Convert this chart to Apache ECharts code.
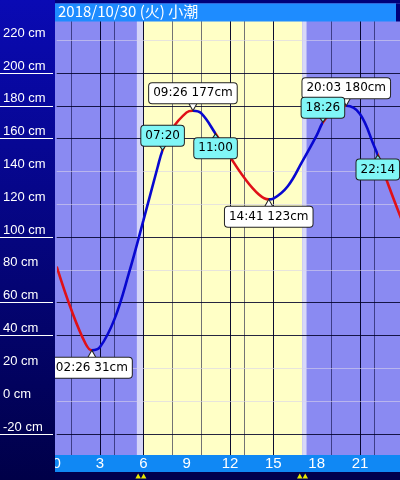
<!DOCTYPE html>
<html><head><meta charset="utf-8">
<script src="https://cdn.jsdelivr.net/npm/echarts@6.0.0/dist/echarts.min.js"></script>
<style>html,body{margin:0;padding:0;background:#000050;}#c{width:400px;height:480px;}</style>
</head><body><div id="c"></div>
<script>
// ---- data ----
const titleText = '2018/10/30 (火) 小潮';
const curveHours = [0, 1, 2, 2.433, 3, 4, 5, 6, 7, 7.333, 8, 9, 9.433, 10, 11, 12, 13, 14, 14.683, 15, 16, 17, 18, 18.433, 19, 20.05, 21, 22, 22.233, 23, 24];
const curveCm    = [82, 56, 35, 31, 33, 50, 78, 110, 143, 153, 166, 176, 177, 175.5, 163, 149, 136, 126, 123, 123.5, 131, 146, 162, 170, 175.5, 180, 175, 155, 150, 131, 108];
const tideTimes = ['02:26', '09:26', '14:41', '20:03'];
const tideCm    = [31, 177, 123, 180];
const tideKind  = ['low', 'high', 'low', 'high'];
const markTimes = ['07:20', '11:00', '18:26', '22:14'];
const markCm    = [153, 163, 170, 150];
const markSide  = ['above', 'below', 'above', 'below'];
const dawnBand  = [5.55, 6.0];
const dayBand   = [6.0, 17.0];
const duskBand  = [17.0, 17.3];
const sunTimes  = [5.83, 17.02];
const xTickHours = [0, 3, 6, 9, 12, 15, 18, 21, 24];
const xLinesDark = [3, 6, 12, 15, 21];
const xLinesThin = [1, 4, 8, 10, 13, 19, 22];
const yLinesDark = [200, 180, 160, 100, 60, 40, -20];
const yLinesLight = [220, 140, 120, 80, 20, 0];

// ---- helpers ----
const toH = s => { const p = s.split(':').map(Number); return p[0] + p[1] / 60; };
const RED = '#e01018', BLUE = '#0808d0';
const breaks = [0].concat(tideTimes.concat(markTimes).map(toH).sort((a, b) => a - b), [24]);
const pieces = [];
for (let i = 0; i < breaks.length - 1; i++) {
  pieces.push({ gte: breaks[i], lt: breaks[i + 1] + (i === breaks.length - 2 ? 0.001 : 0), color: i % 2 === 0 ? RED : BLUE });
}
const curveData = curveHours.map((h, i) => [h, curveCm[i]]);

const downTri = 'path://M0,0L10,0L5,10Z';
const upTri = 'path://M5,0L10,10L0,10Z';
function bubble(h, v, text, above, big, fill) {
  const sz = big ? [9, 8] : [7, 5];
  return {
    name: text, value: [h, v],
    symbol: above ? downTri : upTri,
    symbolSize: sz,
    symbolOffset: [0, above ? -sz[1] / 2 : sz[1] / 2],
    itemStyle: { color: fill, borderColor: '#222', borderWidth: 1, opacity: 1 },
    label: { position: above ? 'top' : 'bottom', distance: -1, backgroundColor: fill }
  };
}
const bubbles = [];
tideTimes.forEach((t, i) => bubbles.push(bubble(toH(t), tideCm[i], t + ' ' + tideCm[i] + 'cm', tideKind[i] === 'high', true, '#ffffff')));
markTimes.forEach((t, i) => bubbles.push(bubble(toH(t), markCm[i], t, markSide[i] === 'above', false, '#80f6f6')));

const vLines = xLinesDark.map(h => ({ xAxis: h, lineStyle: { color: 'rgba(0,0,40,0.95)', width: 1, type: 'solid' } }))
  .concat(xLinesThin.map(h => ({ xAxis: h, lineStyle: { color: 'rgba(0,0,50,0.55)', width: 1, type: 'solid' } })));
const hLines = yLinesDark.map(v => ({ yAxis: v, lineStyle: { color: 'rgba(0,0,40,0.85)', width: 1, type: 'solid' } }))
  .concat(yLinesLight.map(v => ({ yAxis: v, lineStyle: { color: 'rgba(215,210,235,0.6)', width: 1, type: 'solid' } })));

const chart = echarts.init(document.getElementById('c'), null, { renderer: 'canvas' });
const GRID = { top: 7.36, bottom: 13.16 };
chart.setOption({
  animation: false,
  backgroundColor: '#8a8af2',
  title: {
    text: titleText, left: 58, top: 4, padding: 0, z: 9,
    textStyle: { color: '#ffffff', fontSize: 15, fontWeight: 'normal', fontFamily: "'Noto Sans CJK JP', sans-serif" }
  },
  grid: [
    { left: 56.7, right: -3.3, top: GRID.top, bottom: GRID.bottom, outerBoundsMode: 'none', containLabel: false },
    { left: 0, width: 53, top: GRID.top, bottom: GRID.bottom, outerBoundsMode: 'none', containLabel: false }
  ],
  xAxis: [
    {
      type: 'value', gridIndex: 0, min: 0, max: 24, interval: 3, offset: -12, z: 6,
      axisLine: { show: false }, axisTick: { show: false }, splitLine: { show: false },
      axisLabel: {
        color: '#ffffff', fontSize: 15, margin: 2, fontFamily: "'Liberation Sans', sans-serif",
        formatter: v => (xTickHours.indexOf(v) >= 0 && v !== 24) ? String(v) : ''
      }
    },
    { type: 'value', gridIndex: 1, min: 0, max: 1, show: false }
  ],
  yAxis: [
    {
      type: 'value', gridIndex: 0, min: -40, max: 240, interval: 20, z: 8,
      axisLine: { show: false }, axisTick: { show: false }, splitLine: { show: false },
      axisLabel: {
        color: '#ffffff', fontSize: 13, align: 'left', verticalAlign: 'bottom', margin: 53.7, lineHeight: 14,
        fontFamily: "'Liberation Sans', sans-serif",
        formatter: v => (v === -40 || v === 240) ? '' : v + ' cm'
      }
    },
    { type: 'value', gridIndex: 1, min: -40, max: 240, show: false }
  ],
  visualMap: {
    type: 'piecewise', show: false, dimension: 0, seriesIndex: 0, pieces: pieces
  },
  graphic: [
    { type: 'rect', z: 5, silent: true, shape: { x: 0, y: 0, width: 400, height: 3.5 }, style: { fill: '#00007a' } },
    { type: 'rect', z: 5, silent: true, shape: { x: 396, y: 3.5, width: 4, height: 18 }, style: { fill: '#00007a' } },
    { type: 'rect', z: 5, silent: true, shape: { x: 55, y: 3.5, width: 341, height: 18 }, style: { fill: '#1e8cff' } },
    { type: 'rect', z: 5, silent: true, shape: { x: 53, y: 455, width: 347, height: 17 }, style: { fill: '#1088f4' } },
    { type: 'rect', z: 5, silent: true, shape: { x: 0, y: 472, width: 400, height: 8 }, style: { fill: '#00004e' } },
    {
      type: 'rect', z: 7, silent: true, shape: { x: 0, y: 0, width: 55, height: 480 },
      style: { fill: new echarts.graphic.LinearGradient(0, 0, 0, 1, [{ offset: 0, color: '#0a0ab4' }, { offset: 1, color: '#000048' }]) }
    }
  ],
  series: [
    {
      type: 'line', xAxisIndex: 0, yAxisIndex: 0, data: curveData, smooth: 0.4, symbol: 'none', z: 3,
      lineStyle: { width: 2.6 },
      markArea: {
        silent: true, z: 1,
        data: [
          [{ xAxis: dawnBand[0], itemStyle: { color: '#d4d4f8' } }, { xAxis: dawnBand[1] }],
          [{ xAxis: dayBand[0], itemStyle: { color: '#ffffc6' } }, { xAxis: dayBand[1] }],
          [{ xAxis: duskBand[0], itemStyle: { color: '#d8d8f8' } }, { xAxis: duskBand[1] }]
        ]
      },
      markLine: { silent: true, z: 2, symbol: 'none', label: { show: false }, data: vLines.concat(hLines) }
    },
    {
      type: 'scatter', xAxisIndex: 0, yAxisIndex: 0, z: 4, data: bubbles,
      itemStyle: { opacity: 1 },
      label: {
        show: true, formatter: '{b}', color: '#000000', fontSize: 12, lineHeight: 14, opacity: 1,
        fontFamily: "'DejaVu Sans', sans-serif",
        borderColor: '#222222', borderWidth: 1, borderRadius: 3, padding: [3, 4, 3, 4]
      },
      emphasis: { disabled: true },
      labelLayout: p => (p.rect.x < 57 ? { dx: 57 - p.rect.x } : {})
    },
    {
      type: 'scatter', xAxisIndex: 0, yAxisIndex: 0, z: 9, clip: false,
      data: sunTimes.map(h => [h, -45.6]),
      symbol: 'path://M0,10L5,0L10,10Z M10,10L15,0L20,10Z', symbolSize: [11, 5],
      itemStyle: { color: '#e8e800', opacity: 1 }
    },
    {
      type: 'line', xAxisIndex: 1, yAxisIndex: 1, data: [[0.5, -100]], showSymbol: false, z: 8,
      lineStyle: { opacity: 0 },
      markLine: {
        silent: true, z: 8, symbol: 'none', label: { show: false },
        lineStyle: { color: '#ffffff', width: 1, type: 'solid' },
        data: yLinesDark.map(v => ({ yAxis: v }))
      }
    }
  ]
});
</script></body></html>
